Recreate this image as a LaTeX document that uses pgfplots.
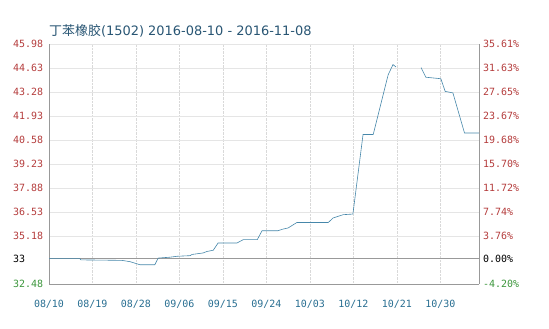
\documentclass[border=0pt]{standalone}
\usepackage{pgfplots}
\pgfplotsset{compat=1.18}
\usepackage{fontspec}
\setmainfont{DejaVu Sans}
\setmonofont{DejaVu Sans Mono}
\newfontfamily\cjk{Noto Sans CJK SC}
\definecolor{tickred}{RGB}{180,60,60}
\definecolor{tickgreen}{RGB}{60,150,60}
\definecolor{xlab}{RGB}{40,110,145}
\definecolor{titlec}{RGB}{40,85,115}
\definecolor{linec}{RGB}{70,135,170}
\begin{document}
\begin{tikzpicture}
\begin{axis}[
  at={(0,0)}, anchor=south west,
  scale only axis, width=430bp, height=240bp,
  xmin=0, xmax=89, ymin=-4.20, ymax=35.61,
  axis line style={draw=gray!80},
  axis y line*=left, axis x line*=bottom,
  xtick={0,9,18,27,36,45,54,63,72,81},
  xticklabels={08/10,08/19,08/28,09/06,09/15,09/24,10/03,10/12,10/21,10/30},
  ytick={-4.20,0,3.76,7.74,11.72,15.70,19.68,23.67,27.65,31.63,35.61},
  yticklabels={\textcolor{tickgreen}{32.48},\textcolor{black}{33},35.18,36.53,37.88,39.23,40.58,41.93,43.28,44.63,45.98},
  major tick length=0pt,
  xmajorgrids, ymajorgrids,
  x grid style={draw=gray!30, densely dotted},
  y grid style={draw=gray!20},
  xticklabel style={font=\ttfamily\fontsize{10}{10}\selectfont, text=xlab, anchor=center, yshift=-20bp},
  yticklabel style={font=\ttfamily\fontsize{10}{10}\selectfont, text=tickred, anchor=west, inner sep=0pt, xshift=-36bp},
  clip=false,
]
\addplot[draw=gray!80, line width=0.8pt] coordinates {(0,0) (89,0)};
\addplot[draw=linec, line width=0.6pt] coordinates {
(0,0) (6.4,0) (6.6,-0.2) (15.1,-0.28) (16.8,-0.5) (18.8,-1.0) (21.9,-1.0)
(22.6,0.1) (25.1,0.25) (26.5,0.4) (29.2,0.5) (29.6,0.7) (31.9,0.95)
(32.7,1.2) (34.0,1.4) (35.0,2.6) (38.9,2.6) (40.2,3.15) (43.1,3.15)
(44.1,4.64) (47.4,4.64) (48.4,4.9) (49.5,5.1) (51.3,6.0) (57.8,6.0)
(58.8,6.75) (60.9,7.3) (62.9,7.4) (65.0,20.6) (67.1,20.6) (70.2,30.5)
(71.2,32.2) (71.8,31.8)};
\addplot[draw=linec, line width=0.6pt] coordinates {
(77.0,31.7) (78.0,30.1) (81.1,29.85) (82.0,27.75) (83.6,27.5) (86.0,20.85) (89,20.85)};
\node[anchor=west, inner sep=0pt, text=titlec, font=\fontsize{13}{13}\selectfont] at (rel axis cs:0,1) [yshift=13bp] {{\cjk 丁苯橡胶}(1502) 2016-08-10 - 2016-11-08};
\end{axis}
\begin{axis}[
  at={(0,0)}, anchor=south west,
  scale only axis, width=430bp, height=240bp,
  xmin=0, xmax=89, ymin=-4.20, ymax=35.61,
  axis y line*=right, axis x line=none,
  axis line style={draw=gray!80},
  major tick length=0pt,
  ytick={-4.20,0,3.76,7.74,11.72,15.70,19.68,23.67,27.65,31.63,35.61},
  yticklabels={\textcolor{tickgreen}{-4.20\%},\textcolor{black}{0.00\%},3.76\%,7.74\%,11.72\%,15.70\%,19.68\%,23.67\%,27.65\%,31.63\%,35.61\%},
  yticklabel style={font=\ttfamily\fontsize{10}{10}\selectfont, text=tickred, anchor=west, inner sep=0pt, xshift=4bp},
]
\addplot[draw=none] coordinates {(0,0) (89,0)};
\end{axis}
\path[use as bounding box] (-49bp,-45bp) rectangle (500bp,284bp);
\end{tikzpicture}
\end{document}
